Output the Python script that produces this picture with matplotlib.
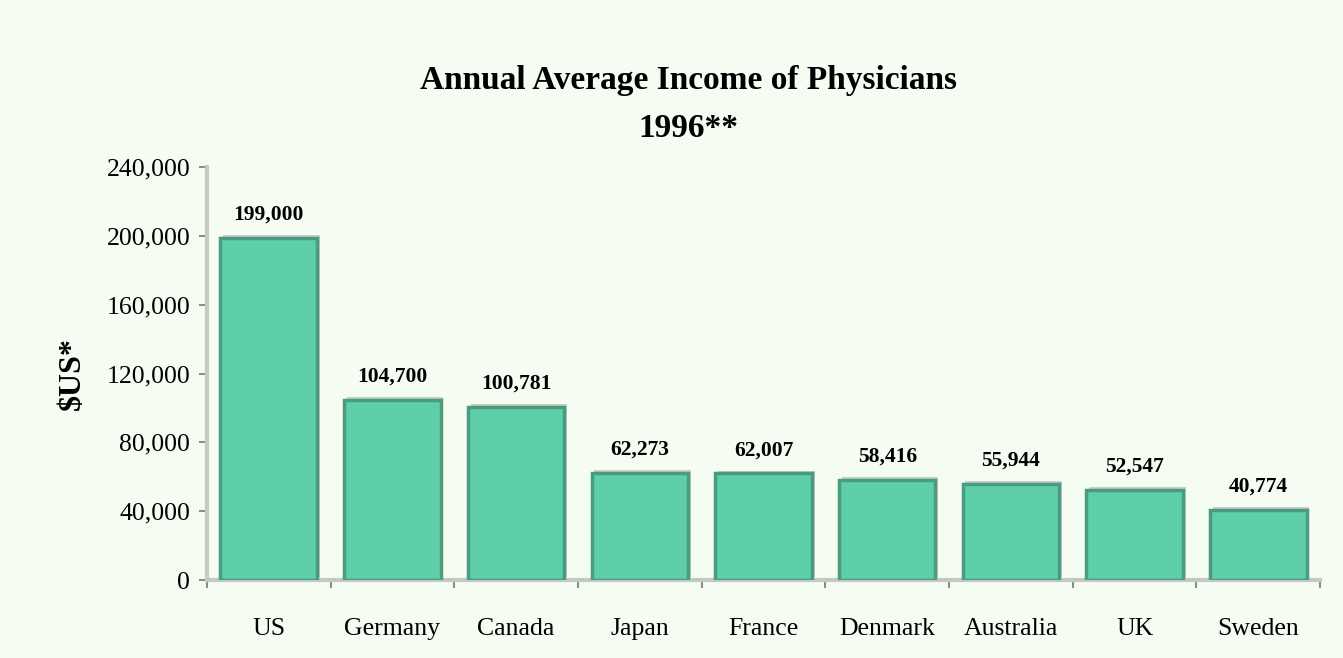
import matplotlib.pyplot as plt
import matplotlib.patheffects as pe
from matplotlib.ticker import FuncFormatter

# data
countries = ['US', 'Germany', 'Canada', 'Japan', 'France', 'Denmark', 'Australia', 'UK', 'Sweden']
income = [199000, 104700, 100781, 62273, 62007, 58416, 55944, 52547, 40774]
labels = ['199,000', '104,700', '100,781', '62,273', '62,007', '58,416', '55,944', '52,547', '40,774']

plt.rcParams['font.family'] = ['Liberation Serif', 'DejaVu Serif']

bg = '#f5fcf2'
fig = plt.figure(figsize=(13.43, 6.58), dpi=100, facecolor=bg)
ax = fig.add_axes([0.154, 0.1185, 0.829, 0.6275], facecolor=bg)

x = list(range(len(countries)))
bars = ax.bar(x, income, width=0.78, color='#5ecfa8', edgecolor='#4a9b80', linewidth=2.5, zorder=3)
for b in bars:
    b.set_path_effects([pe.SimplePatchShadow(offset=(2, 2), shadow_rgbFace='#c8cfc6', alpha=1), pe.Normal()])

for xi, v, lab in zip(x, income, labels):
    ax.text(xi, v + 7500, lab, ha='center', va='bottom', fontsize=15.5, fontweight='bold')

ax.set_xlim(-0.5, len(countries) - 0.5)
ax.set_ylim(0, 240000)
ax.set_yticks(range(0, 240001, 40000))
ax.yaxis.set_major_formatter(FuncFormatter(lambda v, p: f'{int(v):,}'))
ax.set_xticks([i + 0.5 for i in range(-1, len(countries))])
ax.set_xticklabels([])
ax.set_xticks(x, minor=True)
ax.set_xticklabels(countries, minor=True)
ax.tick_params(axis='x', which='minor', length=0, pad=27, labelsize=18.5)
ax.tick_params(axis='x', which='major', length=6, width=1.5, color='#8a8f88', direction='out')
ax.tick_params(axis='y', length=6, width=1.5, color='#8a8f88', labelsize=18.5, pad=6)

for s in ['top', 'right']:
    ax.spines[s].set_visible(False)
for s in ['left', 'bottom']:
    ax.spines[s].set_color('#c4c9c2')
    ax.spines[s].set_linewidth(3)

ax.set_ylabel('$US*', fontsize=23, fontweight='bold', labelpad=14)

fig.text(0.5125, 0.877, 'Annual Average Income of Physicians', ha='center', va='center', fontsize=24, fontweight='bold')
fig.text(0.5125, 0.805, '1996**', ha='center', va='center', fontsize=24, fontweight='bold')

fig.savefig('out.png', dpi=100, facecolor=bg)
